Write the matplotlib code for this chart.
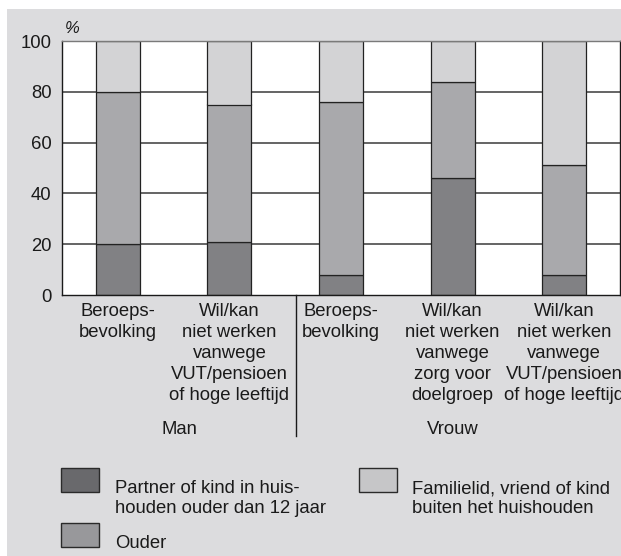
import matplotlib
matplotlib.use("Agg")
import matplotlib.pyplot as plt
from matplotlib.patches import Rectangle

plt.rcParams["font.family"] = ["Liberation Sans", "DejaVu Sans"]

# data (percentages per bar, bottom to top)
categories = [
    "Beroeps-\nbevolking",
    "Wil/kan\nniet werken\nvanwege\nVUT/pensioen\nof hoge leeftijd",
    "Beroeps-\nbevolking",
    "Wil/kan\nniet werken\nvanwege\nzorg voor\ndoelgroep",
    "Wil/kan\nniet werken\nvanwege\nVUT/pensioen\nof hoge leeftijd",
]
partner = [20, 21, 8, 46, 8]
ouder = [60, 54, 68, 38, 43]
familie = [20, 25, 24, 16, 49]
groups = ["Man", "Vrouw"]
group_pos = [0.55, 3.0]
yticks = [0, 20, 40, 60, 80, 100]

legend_labels = [
    "Partner of kind in huis-\nhouden ouder dan 12 jaar",
    "Familielid, vriend of kind\nbuiten het huishouden",
    "Ouder",
]

W, H = 621, 556
BG = "#dcdcde"
C_DARK, C_MID, C_LIGHT = "#818184", "#a9a9ac", "#d3d3d5"
L_DARK, L_MID, L_LIGHT = "#69696c", "#98989b", "#c6c6c8"
TXT = "#1a1a1a"


def fx(px):
    return px / W


def fy(py):
    return 1 - py / H


fig = plt.figure(figsize=(W / 100, H / 100), dpi=100)
fig.patches.append(Rectangle((fx(7), 0), 1, fy(9), transform=fig.transFigure,
                             facecolor=BG, edgecolor="none", zorder=-10))

ax = fig.add_axes([fx(62), fy(295), fx(620) - fx(62), fy(41) - fy(295)])
ax.set_facecolor("white")
ax.set_xlim(-0.5, 4.5)
ax.set_ylim(0, 100)

x = list(range(len(categories)))
for yv in [20, 40, 60, 80]:
    ax.axhline(yv, color="#3a3a3a", lw=1.1, zorder=1)

width = 0.395
bottom2 = [a + b for a, b in zip(partner, ouder)]
ax.bar(x, partner, width, color=C_DARK, edgecolor="#222222", lw=0.9, zorder=2)
ax.bar(x, ouder, width, bottom=partner, color=C_MID, edgecolor="#222222", lw=0.9, zorder=2)
ax.bar(x, familie, width, bottom=bottom2, color=C_LIGHT, edgecolor="#222222", lw=0.9, zorder=2)

for side in ["left", "bottom", "right"]:
    ax.spines[side].set_color("#1a1a1a")
    ax.spines[side].set_linewidth(1.0)
ax.spines["top"].set_color("#7a7a7a")
ax.spines["top"].set_linewidth(1.0)

ax.set_yticks(yticks)
ax.set_yticklabels([str(v) for v in yticks], fontsize=13.3, color=TXT)
ax.tick_params(axis="y", length=0, pad=7.5)
ax.set_xticks([])
ax.text(fx(65) - fx(62), 1.05, "%", transform=ax.transAxes, fontsize=12,
        color=TXT, style="italic", ha="left", va="center")

# category labels under bars
trans = ax.get_xaxis_transform()
for xi, lab in zip(x, categories):
    ax.text(xi, -0.03, lab, transform=trans, ha="center", va="top",
            fontsize=13.3, color=TXT, linespacing=1.31, clip_on=False)
for gx, g in zip(group_pos, groups):
    ax.text(gx, -(429 - 295) / 254, g, transform=trans, ha="center", va="center",
            fontsize=13.3, color=TXT, clip_on=False)

# separator between Man and Vrouw
ax.plot([1.6, 1.6], [0, -(436 - 295) / 254], transform=trans, color="#1a1a1a",
        lw=1.0, clip_on=False)

# legend drawn by hand
leg = [
    (61, 468, L_DARK, 115, 480, legend_labels[0]),
    (359, 468, L_LIGHT, 412, 480, legend_labels[1]),
    (61, 523, L_MID, 115, 535, legend_labels[2]),
]
for px, py, col, tx, ty, lab in leg:
    fig.patches.append(Rectangle((fx(px), fy(py + 24)), fx(38), 24 / H,
                                 transform=fig.transFigure, facecolor=col,
                                 edgecolor="#2a2a2a", lw=1.0))
    fig.text(fx(tx), fy(ty), lab, ha="left", va="top", fontsize=13.3,
             color=TXT, linespacing=1.22)

fig.savefig("out.png", dpi=100)
